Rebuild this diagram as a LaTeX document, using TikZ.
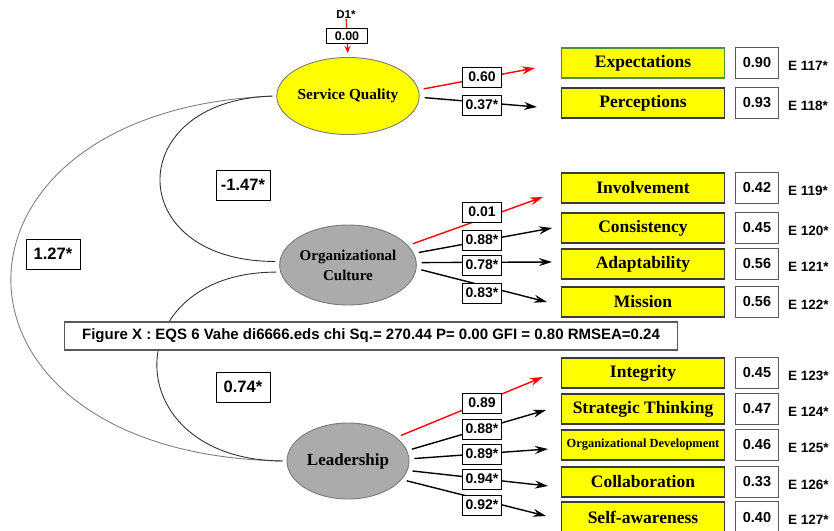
\documentclass[tikz,border=0pt]{standalone}
\usepackage{fontspec}
\setmainfont{Liberation Serif}
\setsansfont{Liberation Sans}
\usetikzlibrary{arrows.meta,shapes.geometric}
\definecolor{ybox}{HTML}{FFFF00}
\definecolor{lgray}{HTML}{ABABAB}
\definecolor{edgegray}{HTML}{7A7A7A}
\definecolor{boxedge}{HTML}{3A3A3A}
\definecolor{valedge}{HTML}{5A5A5A}
\definecolor{greenedge}{HTML}{4E8F3A}
\definecolor{arcdark}{HTML}{333333}
\definecolor{arclight}{HTML}{808080}
\tikzset{
  latent/.style={ellipse, draw=edgegray, line width=0.9pt, minimum width=122pt, minimum height=77pt, inner sep=0pt, align=center},
  indbox/.style={rectangle, draw=boxedge, fill=ybox, line width=1.4pt, minimum width=163pt, minimum height=30pt, inner sep=0pt, font=\fontsize{17.5}{19}\selectfont\bfseries},
  valbox/.style={rectangle, draw=valedge, fill=white, line width=1.3pt, minimum width=43pt, minimum height=31pt, inner sep=0pt, font=\sffamily\fontsize{14.5}{16}\selectfont\bfseries},
  errlab/.style={anchor=west, inner sep=0pt, font=\sffamily\fontsize{13.5}{15}\selectfont\bfseries},
  pathlab/.style={rectangle, draw=black, fill=white, line width=1pt, minimum width=39pt, minimum height=20pt, inner sep=0pt, font=\sffamily\fontsize{14}{16}\selectfont\bfseries},
  covlab/.style={rectangle, draw=black, fill=white, line width=1pt, minimum width=54pt, minimum height=30pt, inner sep=0pt, font=\sffamily\fontsize{16.5}{18}\selectfont\bfseries},
  load/.style={line width=1.4pt, -{Stealth[length=13pt,width=8pt]}, shorten <=5pt},
  redload/.style={load, draw=red, color=red},
  cov/.style={line width=0.9pt, shorten <=4pt, shorten >=4pt},
  capbox/.style={rectangle, draw=valedge, fill=white, line width=1.3pt, minimum width=613pt, minimum height=28pt, inner sep=0pt, font=\sffamily\fontsize{15}{17}\selectfont\bfseries}
}
\begin{document}
\begin{tikzpicture}[x=1pt,y=-1pt]
\useasboundingbox (0,0) rectangle (834,530);

% latent variables
\node[latent, fill=ybox, font=\fontsize{15.3}{17}\selectfont\bfseries] (sq) at (348,96) {Service Quality};
\node[latent, fill=lgray, minimum height=80pt, font=\fontsize{15}{20}\selectfont\bfseries] (oc) at (348,265) {Organizational\\Culture};
\node[latent, fill=lgray, minimum height=76pt, font=\fontsize{17}{19}\selectfont\bfseries] (ld) at (348,461) {Leadership};

% disturbance
\node[inner sep=0pt, font=\sffamily\fontsize{11.5}{13}\selectfont\bfseries] (d1) at (346,15) {D1*};
\draw[red, line width=1.1pt, -{Stealth[length=7pt,width=6pt]}, shorten >=4pt] (d1) -- (sq.north)
  node[pos=0.45, rectangle, draw=black, fill=white, text=black, line width=1pt, minimum width=41pt, minimum height=15pt, inner sep=0pt, font=\sffamily\fontsize{12.5}{14}\selectfont\bfseries] (d1v) {0.00};

% covariance arcs
\draw[cov, draw=arclight] (sq.west) .. controls (-78,110) and (-78,455) .. (ld.west);
\draw[cov, draw=arcdark] (sq.west) .. controls (122,100) and (122,262) .. (oc.177);
\draw[cov, draw=arcdark] (oc.186) .. controls (116,272) and (116,460) .. (ld.west);

% indicator boxes
\node[indbox, draw=greenedge] (exp) at (643,63) {Expectations};
\node[indbox] (per) at (643,103) {Perceptions};
\node[indbox] (inv) at (643,188) {Involvement};
\node[indbox] (con) at (643,228) {Consistency};
\node[indbox] (ada) at (643,264) {Adaptability};
\node[indbox] (mis) at (643,302) {Mission};
\node[indbox] (int) at (643,373) {Integrity};
\node[indbox] (str) at (643,409) {Strategic Thinking};
\node[indbox, font=\fontsize{12.4}{14}\selectfont\bfseries] (od) at (643,445) {Organizational Development};
\node[indbox] (col) at (643,482) {Collaboration};
\node[indbox] (slf) at (643,517) {Self-awareness};

% value boxes
\node[valbox] (v1) at (757,63) {0.90};
\node[valbox] (v2) at (757,103) {0.93};
\node[valbox] (v3) at (757,188) {0.42};
\node[valbox] (v4) at (757,228) {0.45};
\node[valbox] (v5) at (757,264) {0.56};
\node[valbox] (v6) at (757,302) {0.56};
\node[valbox] (v7) at (757,373) {0.45};
\node[valbox] (v8) at (757,409) {0.47};
\node[valbox] (v9) at (757,445) {0.46};
\node[valbox] (v10) at (757,482) {0.33};
\node[valbox] (v11) at (757,517) {0.40};

% error labels
\node[errlab] (e1) at (788,66) {E 117*};
\node[errlab] (e2) at (788,106) {E 118*};
\node[errlab] (e3) at (788,191) {E 119*};
\node[errlab] (e4) at (788,231) {E 120*};
\node[errlab] (e5) at (788,267) {E 121*};
\node[errlab] (e6) at (788,305) {E 122*};
\node[errlab] (e7) at (788,376) {E 123*};
\node[errlab] (e8) at (788,412) {E 124*};
\node[errlab] (e9) at (788,448) {E 125*};
\node[errlab] (e10) at (788,485) {E 126*};
\node[errlab] (e11) at (788,520) {E 127*};

% loading arrow ends
\coordinate (t1) at (535,68);
\coordinate (t2) at (537,107);
\coordinate (t3) at (543,197);
\coordinate (t4) at (552,228);
\coordinate (t5) at (552,262);
\coordinate (t6) at (547,302);
\coordinate (t7) at (543,377);
\coordinate (t8) at (546,410);
\coordinate (t9) at (548,449);
\coordinate (t10) at (548,486);
\coordinate (t11) at (546,516);

% loadings
\draw[redload] (sq.5) -- (t1);
\draw[load] (sq.-1) -- (t2);
\draw[redload] (oc.18) -- (t3);
\draw[load] (oc.10) -- (t4);
\draw[load] (oc.2) -- (t5);
\draw[load] (oc.-3) -- (t6);
\draw[redload] (ld.26) -- (t7);
\draw[load] (ld.10) -- (t8);
\draw[load] (ld.2) -- (t9);
\draw[load] (ld.-9) -- (t10);
\draw[load] (ld.-19) -- (t11);

% loading labels
\node[pathlab] (p1) at (482,77) {0.60};
\node[pathlab] (p2) at (482,105) {0.37*};
\node[pathlab] (p3) at (482,212) {0.01};
\node[pathlab] (p4) at (482,240) {0.88*};
\node[pathlab] (p5) at (482,265) {0.78*};
\node[pathlab] (p6) at (482,293) {0.83*};
\node[pathlab] (p7) at (482,403) {0.89};
\node[pathlab] (p8) at (482,429) {0.88*};
\node[pathlab] (p9) at (482,454) {0.89*};
\node[pathlab] (p10) at (482,479) {0.94*};
\node[pathlab] (p11) at (482,505) {0.92*};

% covariance labels
\node[covlab] (c1) at (243,185) {-1.47*};
\node[covlab] (c2) at (53,254) {1.27*};
\node[covlab] (c3) at (243,387) {0.74*};

% caption
\node[capbox] (cap) at (371,336) {Figure X : EQS 6 Vahe di6666.eds chi Sq.= 270.44 P= 0.00 GFI = 0.80 RMSEA=0.24};
\end{tikzpicture}
\end{document}
